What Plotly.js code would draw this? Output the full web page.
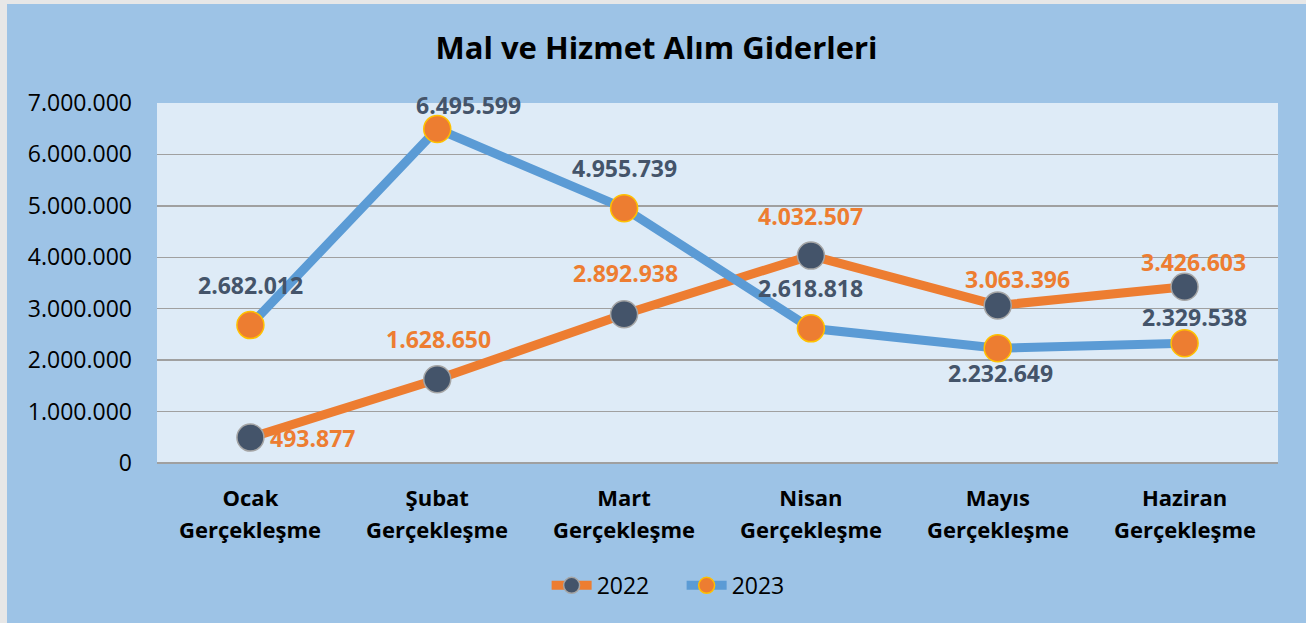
<!DOCTYPE html>
<html>
<head>
<meta charset="utf-8">
<script src="https://cdn.plot.ly/plotly-3.0.1.min.js"></script>
<style>
  html, body { margin: 0; padding: 0; background: #E7E7E7; width: 1306px; height: 623px; overflow: hidden; }
  #chart { position: absolute; left: 7px; top: 4px; width: 1299px; height: 619px; }
</style>
</head>
<body>
<div id="chart"></div>
<script>
// ---- data ----
const months = ["Ocak", "Şubat", "Mart", "Nisan", "Mayıs", "Haziran"];
const subLabel = "Gerçekleşme";
const categories = months.map(m => m + " " + subLabel);
const values2022 = [493877, 1628650, 2892938, 4032507, 3063396, 3426603];
const values2023 = [2682012, 6495599, 4955739, 2618818, 2232649, 2329538];
const seriesNames = ["2022", "2023"];
const chartTitle = "Mal ve Hizmet Alım Giderleri";

// ---- label placement (pixel offsets, styling only) ----
const offs2022 = [[62, 0], [1, 40], [1, 41], [0, 40], [20, 26], [9, 25]];
const offs2023 = [[0, 40], [31, 24], [0, 40], [0, 40], [3, -25], [10, 26]];

const fmt = v => String(v).replace(/\B(?=(\d{3})+(?!\d))/g, ".");
const FONT = "Open Sans, Noto Sans, sans-serif";
const ORANGE = "#ED7D31", BLUE = "#5B9BD5", DARK = "#44546A";

const traces = [
  {
    type: "scatter", mode: "lines+markers", name: seriesNames[0],
    x: categories, y: values2022,
    line: { color: ORANGE, width: 9 },
    marker: { color: DARK, size: 27, line: { color: "#A5A5A5", width: 1.5 } }
  },
  {
    type: "scatter", mode: "lines+markers", name: seriesNames[1],
    x: categories, y: values2023,
    line: { color: BLUE, width: 9 },
    marker: { color: ORANGE, size: 27, line: { color: "#FFC000", width: 1.5 } }
  }
];

const annotations = [];
values2022.forEach((v, i) => annotations.push({
  x: categories[i], y: v, xref: "x", yref: "y", text: fmt(v), showarrow: false,
  xshift: offs2022[i][0], yshift: offs2022[i][1],
  font: { family: FONT, size: 23, color: ORANGE, weight: "bold" }
}));
values2023.forEach((v, i) => annotations.push({
  x: categories[i], y: v, xref: "x", yref: "y", text: fmt(v), showarrow: false,
  xshift: offs2023[i][0], yshift: offs2023[i][1],
  font: { family: FONT, size: 23, color: DARK, weight: "bold" }
}));
// second line of each category label
categories.forEach(c => annotations.push({
  x: c, y: 0, xref: "x", yref: "paper", text: subLabel, showarrow: false,
  yanchor: "middle", yshift: -66,
  font: { family: FONT, size: 22, color: "#000", weight: "bold" }
}));

const layout = {
  width: 1299, height: 619,
  paper_bgcolor: "#9DC3E6", plot_bgcolor: "#DEEBF7",
  margin: { l: 150, r: 28, t: 99, b: 160, autoexpand: false },
  separators: ",.",
  font: { family: FONT, color: "#000" },
  title: {
    text: "<b>" + chartTitle + "</b>",
    x: 0.5, xanchor: "center", xref: "container",
    y: 1 - 44 / 619, yanchor: "middle", yref: "container",
    font: { family: FONT, size: 31, color: "#000" }
  },
  xaxis: {
    type: "category", range: [-0.5, 5.5],
    tickvals: categories, ticktext: months, tickangle: 0,
    showgrid: false, zeroline: false, showline: false,
    ticks: "", ticklabelstandoff: 20,
    tickfont: { family: FONT, size: 22, color: "#000", weight: "bold" },
    fixedrange: true
  },
  yaxis: {
    range: [0, 7000000], dtick: 1000000, tick0: 0,
    tickformat: ",d",
    showgrid: true, gridcolor: "#A0A0A0", gridwidth: 1.5,
    zeroline: true, zerolinecolor: "#A0A0A0", zerolinewidth: 1.5,
    showline: false, ticks: "", ticklabelstandoff: 24,
    tickfont: { family: FONT, size: 23, color: "#000" },
    fixedrange: true
  },
  showlegend: true,
  legend: {
    orientation: "h", x: 0.468, xanchor: "center", xref: "paper",
    y: -0.34, yanchor: "middle",
    font: { family: FONT, size: 23, color: "#000" },
    bgcolor: "rgba(0,0,0,0)", itemwidth: 40,
    entrywidth: 80, entrywidthmode: "pixels"
  },
  annotations: annotations
};

Plotly.newPlot("chart", traces, layout, { displayModeBar: false, staticPlot: true });
</script>
</body>
</html>
